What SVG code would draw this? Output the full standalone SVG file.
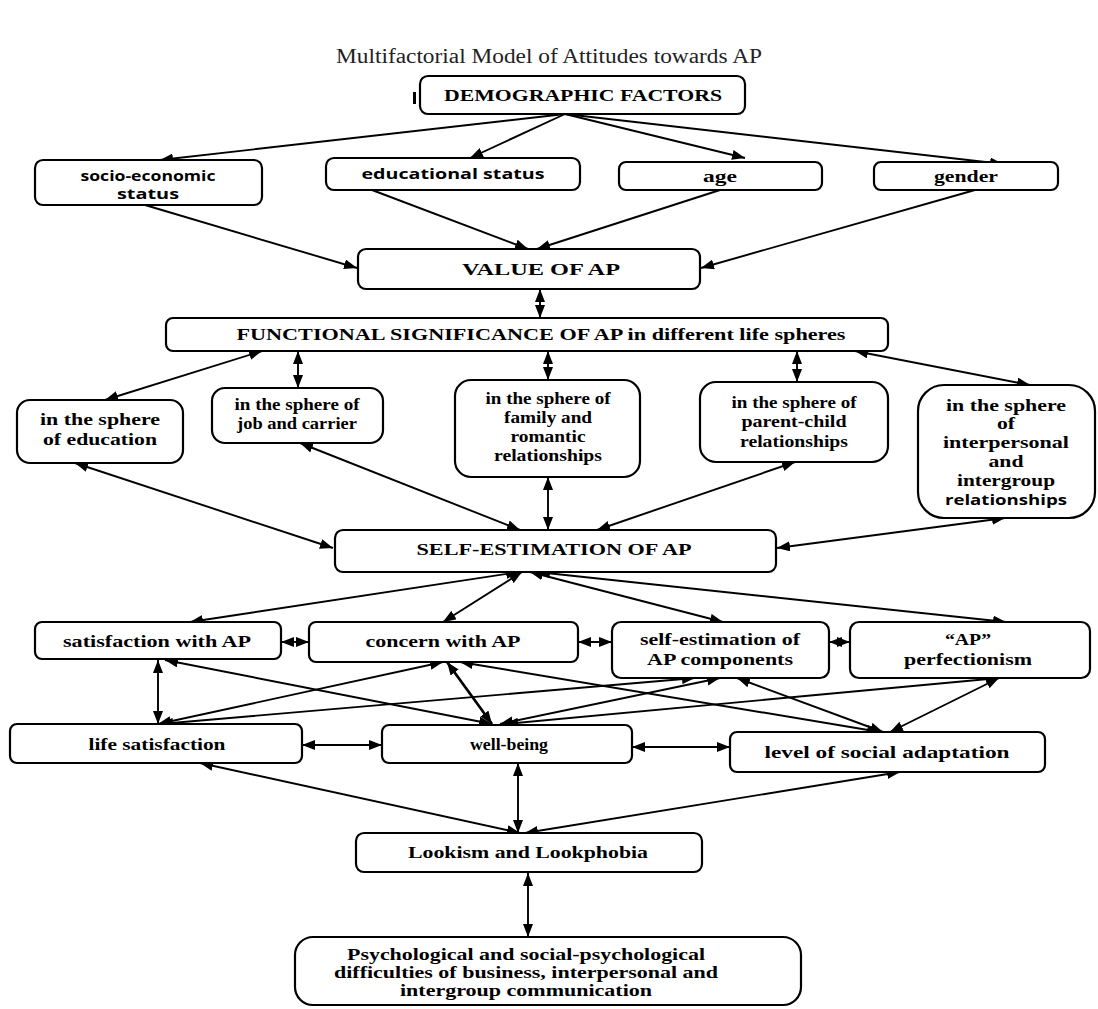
<svg xmlns="http://www.w3.org/2000/svg" width="1098" height="1009" viewBox="0 0 1098 1009">
<style>
.bx{fill:#fff;stroke:#000;stroke-width:2.2}
.t{font-family:"Liberation Serif","Times New Roman",serif;font-weight:bold;font-size:17px;fill:#000;text-anchor:middle}
.s{font-family:"Open Sans","DejaVu Sans",sans-serif;font-weight:bold;font-size:14.5px;fill:#000;text-anchor:middle}
.title{font-family:"Liberation Serif","Times New Roman",serif;font-size:20px;fill:#222;text-anchor:middle}
.c{fill:none;stroke:#000;stroke-width:1.9}
</style>
<defs>
<marker id="a" viewBox="0 0 13 10" refX="13" refY="5" markerWidth="13" markerHeight="10" markerUnits="userSpaceOnUse" orient="auto-start-reverse">
<path d="M0,0 L13,5 L0,10 z" fill="#000"/>
</marker>
</defs>
<rect width="1098" height="1009" fill="#fff"/>
<text class="title" x="549" y="63" textLength="426" lengthAdjust="spacingAndGlyphs">Multifactorial Model of Attitudes towards AP</text>

<g id="connectors">
<path class="c" marker-end="url(#a)" d="M565,114 L160,160"/>
<path class="c" marker-end="url(#a)" d="M565,114 L470,158"/>
<path class="c" marker-end="url(#a)" d="M565,114 L745,158"/>
<path class="c" marker-end="url(#a)" d="M565,114 L1003,164"/>
<path class="c" marker-end="url(#a)" d="M145,205 L357,268"/>
<path class="c" marker-end="url(#a)" d="M372,190 L528,249"/>
<path class="c" marker-end="url(#a)" d="M720,190 L537,249"/>
<path class="c" marker-end="url(#a)" d="M975,190 L701,268"/>
<path class="c" marker-start="url(#a)" marker-end="url(#a)" d="M540,289 L540,318"/>
<path class="c" marker-start="url(#a)" marker-end="url(#a)" d="M262,351 L105,400"/>
<path class="c" marker-start="url(#a)" marker-end="url(#a)" d="M298,351 L298,388"/>
<path class="c" marker-start="url(#a)" marker-end="url(#a)" d="M548,351 L548,380"/>
<path class="c" marker-start="url(#a)" marker-end="url(#a)" d="M797,351 L797,382"/>
<path class="c" marker-start="url(#a)" marker-end="url(#a)" d="M855,351 L1030,385"/>
<path class="c" marker-start="url(#a)" marker-end="url(#a)" d="M75,463 L333,548"/>
<path class="c" marker-start="url(#a)" marker-end="url(#a)" d="M300,443 L520,530"/>
<path class="c" marker-start="url(#a)" marker-end="url(#a)" d="M548,477 L548,530"/>
<path class="c" marker-start="url(#a)" marker-end="url(#a)" d="M795,462 L597,530"/>
<path class="c" marker-start="url(#a)" marker-end="url(#a)" d="M777,548 L1005,518"/>
<path class="c" marker-start="url(#a)" marker-end="url(#a)" d="M519,572 L190,622"/>
<path class="c" marker-start="url(#a)" marker-end="url(#a)" d="M522,572 L443,622"/>
<path class="c" marker-start="url(#a)" marker-end="url(#a)" d="M530,572 L723,622"/>
<path class="c" marker-start="url(#a)" marker-end="url(#a)" d="M537,572 L1006,622"/>
<path class="c" marker-start="url(#a)" marker-end="url(#a)" d="M281,642 L309,642"/>
<path class="c" marker-start="url(#a)" marker-end="url(#a)" d="M578,642 L612,642"/>
<path class="c" marker-start="url(#a)" marker-end="url(#a)" d="M829,642 L850,642"/>
<path class="c" marker-start="url(#a)" marker-end="url(#a)" d="M158,660 L158,724"/>
<path class="c" marker-start="url(#a)" marker-end="url(#a)" d="M165,660 L492,724"/>
<path class="c" marker-start="url(#a)" marker-end="url(#a)" d="M443,662 L158,724"/>
<path class="c" marker-start="url(#a)" marker-end="url(#a)" d="M447,662 L492,724" style="stroke-width:2.7"/>
<path class="c" marker-start="url(#a)" marker-end="url(#a)" d="M460,662 L880,732"/>
<path class="c" marker-start="url(#a)" marker-end="url(#a)" d="M695,678 L160,724"/>
<path class="c" marker-start="url(#a)" marker-end="url(#a)" d="M720,678 L500,724"/>
<path class="c" marker-start="url(#a)" marker-end="url(#a)" d="M737,678 L883,732"/>
<path class="c" marker-start="url(#a)" marker-end="url(#a)" d="M999,678 L505,724"/>
<path class="c" marker-start="url(#a)" marker-end="url(#a)" d="M999,678 L890,732"/>
<path class="c" marker-start="url(#a)" marker-end="url(#a)" d="M302,745 L382,745"/>
<path class="c" marker-start="url(#a)" marker-end="url(#a)" d="M632,747 L730,747"/>
<path class="c" marker-start="url(#a)" marker-end="url(#a)" d="M200,763 L520,833"/>
<path class="c" marker-start="url(#a)" marker-end="url(#a)" d="M518,763 L518,833"/>
<path class="c" marker-start="url(#a)" marker-end="url(#a)" d="M900,772 L525,833"/>
<path class="c" marker-start="url(#a)" marker-end="url(#a)" d="M528,873 L528,937"/>
</g>

<g id="demographic">
<rect x="413" y="92" width="3" height="12" fill="#000"/>
<rect class="bx" x="420" y="76" width="325" height="38" rx="8"/>
<text class="t" x="583" y="101" textLength="278" lengthAdjust="spacingAndGlyphs">DEMOGRAPHIC FACTORS</text>
</g>
<g id="socio">
<rect class="bx" x="35" y="160" width="227" height="45" rx="8"/>
<text class="s" x="148" y="181" textLength="135" lengthAdjust="spacingAndGlyphs">socio-economic</text>
<text class="s" x="148" y="199" textLength="62" lengthAdjust="spacingAndGlyphs">status</text>
</g>
<g id="educational">
<rect class="bx" x="326" y="158" width="254" height="32" rx="8"/>
<text class="s" x="453" y="179" textLength="183" lengthAdjust="spacingAndGlyphs">educational status</text>
</g>
<g id="age">
<rect class="bx" x="619" y="162" width="203" height="28" rx="7"/>
<text class="t" x="720" y="182" textLength="34" lengthAdjust="spacingAndGlyphs">age</text>
</g>
<g id="gender">
<rect class="bx" x="874" y="162" width="184" height="28" rx="7"/>
<text class="t" x="966" y="182" textLength="64" lengthAdjust="spacingAndGlyphs">gender</text>
</g>
<g id="value">
<rect class="bx" x="358" y="249" width="342" height="40" rx="8"/>
<text class="t" x="541" y="275" textLength="158" lengthAdjust="spacingAndGlyphs">VALUE OF AP</text>
</g>
<g id="functional">
<rect class="bx" x="166" y="318" width="722" height="33" rx="7"/>
<text class="t" x="541" y="340" textLength="609" lengthAdjust="spacingAndGlyphs">FUNCTIONAL SIGNIFICANCE OF AP in different life spheres</text>
</g>
<g id="education">
<rect class="bx" x="17" y="400" width="166" height="63" rx="13"/>
<text class="t" x="100" y="425" textLength="120" lengthAdjust="spacingAndGlyphs">in the sphere</text>
<text class="t" x="100" y="445" textLength="114" lengthAdjust="spacingAndGlyphs">of education</text>
</g>
<g id="job">
<rect class="bx" x="212" y="388" width="171" height="55" rx="13"/>
<text class="t" x="297" y="410" textLength="125" lengthAdjust="spacingAndGlyphs">in the sphere of</text>
<text class="t" x="297" y="429" textLength="120" lengthAdjust="spacingAndGlyphs">job and carrier</text>
</g>
<g id="family">
<rect class="bx" x="455" y="380" width="185" height="97" rx="16"/>
<text class="t" x="548" y="404" textLength="125" lengthAdjust="spacingAndGlyphs">in the sphere of</text>
<text class="t" x="548" y="423" textLength="88" lengthAdjust="spacingAndGlyphs">family and</text>
<text class="t" x="548" y="442" textLength="75" lengthAdjust="spacingAndGlyphs">romantic</text>
<text class="t" x="548" y="461" textLength="108" lengthAdjust="spacingAndGlyphs">relationships</text>
</g>
<g id="parent">
<rect class="bx" x="700" y="382" width="188" height="80" rx="16"/>
<text class="t" x="794" y="408" textLength="125" lengthAdjust="spacingAndGlyphs">in the sphere of</text>
<text class="t" x="794" y="427" textLength="105" lengthAdjust="spacingAndGlyphs">parent-child</text>
<text class="t" x="794" y="447" textLength="108" lengthAdjust="spacingAndGlyphs">relationships</text>
</g>
<g id="interpersonal">
<rect class="bx" x="918" y="385" width="177" height="133" rx="26"/>
<text class="t" x="1006" y="411" textLength="120" lengthAdjust="spacingAndGlyphs">in the sphere</text>
<text class="t" x="1006" y="429" textLength="18" lengthAdjust="spacingAndGlyphs">of</text>
<text class="t" x="1006" y="448" textLength="126" lengthAdjust="spacingAndGlyphs">interpersonal</text>
<text class="t" x="1006" y="467" textLength="35" lengthAdjust="spacingAndGlyphs">and</text>
<text class="t" x="1006" y="486" textLength="98" lengthAdjust="spacingAndGlyphs">intergroup</text>
<text class="s" x="1006" y="505" textLength="122" lengthAdjust="spacingAndGlyphs">relationships</text>
</g>
<g id="self-estimation">
<rect class="bx" x="335" y="530" width="441" height="42" rx="8"/>
<text class="t" x="554" y="555" textLength="275" lengthAdjust="spacingAndGlyphs">SELF-ESTIMATION OF AP</text>
</g>
<g id="satisfaction">
<rect class="bx" x="35" y="622" width="246" height="37" rx="7"/>
<text class="t" x="157" y="647" textLength="188" lengthAdjust="spacingAndGlyphs">satisfaction with AP</text>
</g>
<g id="concern">
<rect class="bx" x="309" y="622" width="269" height="40" rx="7"/>
<text class="t" x="443" y="647" textLength="155" lengthAdjust="spacingAndGlyphs">concern with AP</text>
</g>
<g id="components">
<rect class="bx" x="612" y="622" width="217" height="56" rx="9"/>
<text class="t" x="720" y="645" textLength="160" lengthAdjust="spacingAndGlyphs">self-estimation of</text>
<text class="t" x="720" y="665" textLength="146" lengthAdjust="spacingAndGlyphs">AP components</text>
</g>
<g id="perfectionism">
<rect class="bx" x="850" y="622" width="240" height="56" rx="9"/>
<text class="t" x="968" y="645" textLength="46" lengthAdjust="spacingAndGlyphs">“AP”</text>
<text class="t" x="968" y="665" textLength="128" lengthAdjust="spacingAndGlyphs">perfectionism</text>
</g>
<g id="life-satisfaction">
<rect class="bx" x="10" y="724" width="292" height="39" rx="7"/>
<text class="t" x="157" y="750" textLength="137" lengthAdjust="spacingAndGlyphs">life satisfaction</text>
</g>
<g id="well-being">
<rect class="bx" x="382" y="725" width="250" height="38" rx="7"/>
<text class="t" x="509" y="750" textLength="78" lengthAdjust="spacingAndGlyphs">well-being</text>
</g>
<g id="social-adaptation">
<rect class="bx" x="730" y="732" width="315" height="40" rx="7"/>
<text class="t" x="887" y="758" textLength="245" lengthAdjust="spacingAndGlyphs">level of social adaptation</text>
</g>
<g id="lookism">
<rect class="bx" x="356" y="833" width="346" height="39" rx="8"/>
<text class="t" x="528" y="858" textLength="240" lengthAdjust="spacingAndGlyphs">Lookism and Lookphobia</text>
</g>
<g id="difficulties">
<rect class="bx" x="295" y="937" width="506" height="68" rx="18"/>
<text class="t" x="526" y="960" textLength="358" lengthAdjust="spacingAndGlyphs">Psychological and social-psychological</text>
<text class="t" x="526" y="978" textLength="384" lengthAdjust="spacingAndGlyphs">difficulties of business, interpersonal and</text>
<text class="t" x="526" y="996" textLength="252" lengthAdjust="spacingAndGlyphs">intergroup communication</text>
</g>
</svg>
